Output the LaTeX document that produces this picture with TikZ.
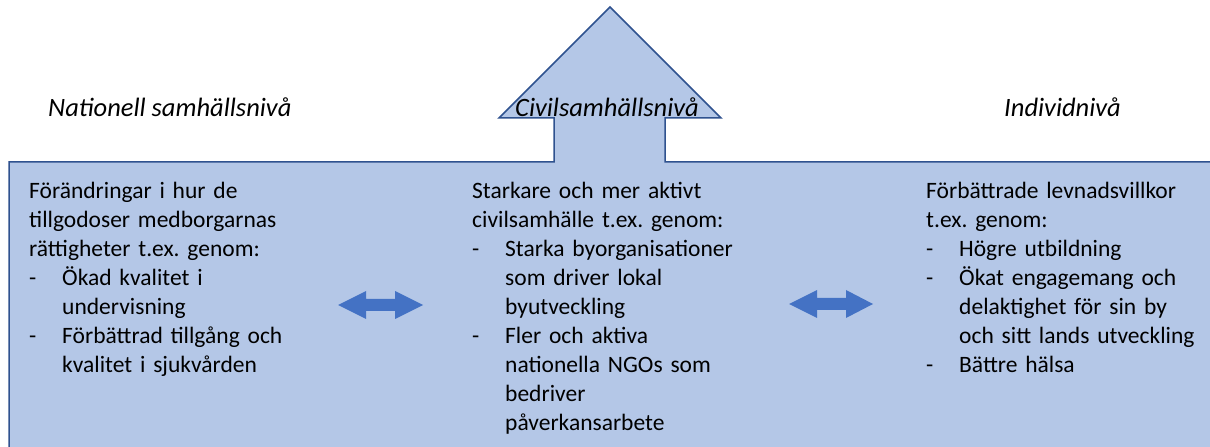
\documentclass[tikz,border=0pt]{standalone}
\usepackage{fontspec}
\setmainfont{Carlito}
\frenchspacing
\definecolor{boxfill}{HTML}{B4C7E7}
\definecolor{boxline}{HTML}{2F528F}
\definecolor{arrfill}{HTML}{4472C4}
\newcommand{\itm}{\makebox[33pt][l]{-}}
\newcommand{\ind}{\hspace*{33pt}}
\tikzset{
  coltext/.style={anchor=base west, inner sep=0pt, text width=#1, align=left,
    font=\fontsize{23.5}{28.9}\selectfont\frenchspacing},
  heading/.style={anchor=base west, inner sep=0pt, font=\fontsize{26.5}{30}\selectfont\itshape},
  dblarrow/.style={fill=arrfill, draw=none},
  mainshape/.style={fill=boxfill, draw=boxline, line width=1.5pt, line join=miter}
}
\begin{document}
\begin{tikzpicture}[x=1pt,y=1pt]
\useasboundingbox (0,0) rectangle (1210,447);
\clip (0,0) rectangle (1210,447);
% main shape: box with upward arrow
\draw[mainshape] (9,-10) -- (9,285) -- (554,285) -- (554,329) -- (499,329) -- (610,440)
  -- (721,329) -- (665,329) -- (665,285) -- (1220,285) -- (1220,-10) -- cycle;
% headings
\node[heading] (hnat) at (48,330) {Nationell samhällsnivå};
\node[heading] (hciv) at (515,330) {Civilsamhällsnivå};
\node[heading] (hind) at (1004,330) {Individnivå};
% column texts
\node[coltext=260pt] (cleft) at (29,248) {Förändringar i hur de\\
tillgodoser medborgarnas\\
rättigheter t.ex. genom:\\
\itm Ökad kvalitet i\\
\ind undervisning\\
\itm Förbättrad tillgång och\\
\ind kvalitet i sjukvården};
\node[coltext=300pt] (cmid) at (472,248) {Starkare och mer aktivt\\
civilsamhälle t.ex. genom:\\
\itm Starka byorganisationer\\
\ind som driver lokal\\
\ind byutveckling\\
\itm Fler och aktiva\\
\ind nationella NGOs som\\
\ind bedriver\\
\ind påverkansarbete};
\node[coltext=280pt] (cright) at (926,248) {Förbättrade levnadsvillkor\\
t.ex. genom:\\
\itm Högre utbildning\\
\itm Ökat engagemang och\\
\ind delaktighet för sin by\\
\ind och sitt lands utveckling\\
\itm Bättre hälsa};
% double arrows
\fill[dblarrow] (338,142) -- (366,156) -- (366,148) -- (395,148) -- (395,156) -- (423,142)
  -- (395,128) -- (395,136) -- (366,136) -- (366,128) -- cycle;
\fill[dblarrow] (789,143) -- (817,157) -- (817,149) -- (846,149) -- (846,157) -- (873,143)
  -- (846,129) -- (846,137) -- (817,137) -- (817,129) -- cycle;
\end{tikzpicture}
\end{document}
